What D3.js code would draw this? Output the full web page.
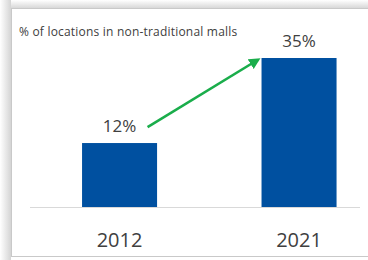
<!DOCTYPE html>
<html>
<head>
<style>
  body { margin: 0; background: #fff; }
  svg { display: block; }
</style>
<script src="https://cdn.jsdelivr.net/npm/d3@7"></script>
</head>
<body>
<svg id="chart" width="368" height="260"></svg>
<script>
// data
var years = ["2012", "2021"];
var shares = [12, 35];
var shareLabels = ["12%", "35%"];
var title = "% of locations in non-traditional malls";

var svg = d3.select("#chart");
var W = 368, H = 260;
var font = "'Open Sans', 'Liberation Sans', sans-serif";

// shadow around the frame
var defs = svg.append("defs");
var gl = defs.append("linearGradient").attr("id", "shL").attr("x1", 0).attr("x2", 1);
gl.append("stop").attr("offset", 0).attr("stop-color", "#ffffff");
gl.append("stop").attr("offset", 1).attr("stop-color", "#d4d4d4");
var gt = defs.append("linearGradient").attr("id", "shT").attr("x1", 0).attr("x2", 0).attr("y1", 0).attr("y2", 1);
gt.append("stop").attr("offset", 0).attr("stop-color", "#ffffff");
gt.append("stop").attr("offset", 1).attr("stop-color", "#d8d8d8");
var marker = defs.append("marker").attr("id", "arrow")
  .attr("viewBox", "0 0 10 10").attr("refX", 7).attr("refY", 5)
  .attr("markerWidth", 4.4).attr("markerHeight", 4.4)
  .attr("orient", "auto");
marker.append("path").attr("d", "M0,0 L10,5 L0,10 z").attr("fill", "#1aad4b");

svg.append("rect").attr("x", 0).attr("y", 0).attr("width", W).attr("height", H).attr("fill", "#fff");
svg.append("rect").attr("x", 0).attr("y", 0).attr("width", 11).attr("height", H).attr("fill", "url(#shL)");
svg.append("rect").attr("x", 11).attr("y", 0).attr("width", W - 11).attr("height", 8).attr("fill", "url(#shT)");
svg.append("rect").attr("x", 11.5).attr("y", 8.5).attr("width", W + 10).attr("height", 248)
  .attr("fill", "#fff").attr("stroke", "#c9c9c9");

// scales
var x = d3.scaleBand().domain(years).range([30, 388.6]).paddingInner(0.582).paddingOuter(0.29);
var y = d3.scaleLinear().domain([-5.3, 35]).range([207, 58]);

svg.append("text").attr("x", 19).attr("y", 36)
  .attr("font-family", font).attr("font-size", 12).attr("fill", "#404040")
  .attr("letter-spacing", 0.2)
  .text(title);

// baseline
svg.append("line").attr("x1", 30).attr("x2", 360).attr("y1", 207.5).attr("y2", 207.5)
  .attr("stroke", "#d9d9d9").attr("stroke-width", 1);

svg.selectAll("rect.bar").data(shares).enter().append("rect")
  .attr("class", "bar")
  .attr("x", function(d, i) { return x(years[i]); })
  .attr("y", function(d) { return y(d); })
  .attr("width", x.bandwidth())
  .attr("height", function(d) { return y(-5.3) - y(d); })
  .attr("fill", "#0050a0");

svg.selectAll("text.val").data(shares).enter().append("text")
  .attr("class", "val")
  .attr("x", function(d, i) { return x(years[i]) + x.bandwidth() / 2; })
  .attr("y", function(d) { return y(d) - 11; })
  .attr("text-anchor", "middle")
  .attr("font-family", font).attr("font-size", 17).attr("fill", "#404040")
  .text(function(d, i) { return shareLabels[i]; });

svg.selectAll("text.cat").data(years).enter().append("text")
  .attr("class", "cat")
  .attr("x", function(d) { return x(d) + x.bandwidth() / 2; })
  .attr("y", 247)
  .attr("text-anchor", "middle")
  .attr("font-family", font).attr("font-size", 20).attr("fill", "#404040")
  .text(function(d) { return d; });

// growth arrow from the 2012 label to the 2021 bar
var ax1 = x(years[0]) + x.bandwidth() / 2 + 28, ay1 = y(shares[0]) - 16;
var ax2 = x(years[1]) - 4, ay2 = y(shares[1]) + 2;
svg.append("line")
  .attr("x1", ax1).attr("y1", ay1).attr("x2", ax2).attr("y2", ay2)
  .attr("stroke", "#1aad4b").attr("stroke-width", 2.6)
  .attr("marker-end", "url(#arrow)");
</script>
</body>
</html>
